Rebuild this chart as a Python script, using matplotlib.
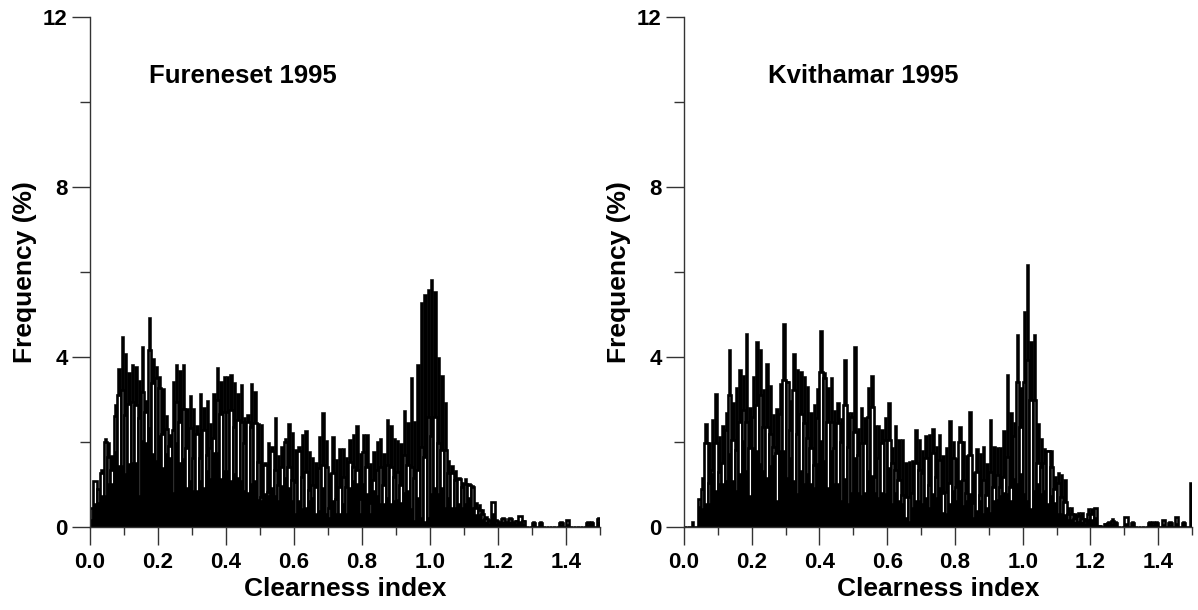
import numpy as np
import matplotlib.pyplot as plt

# clearness index bins, 0.01 wide, from 0.00 to 1.49
clearness_bins = np.round(np.arange(0, 1.5, 0.01), 2)

# Fureneset 1995 -- three overlaid frequency series (%)
fureneset_top = [
    0.30, 0.90, 0.67, 1.36, 2.10, 2.00, 1.70, 2.90, 3.75, 4.50,
    4.10, 3.65, 3.83, 3.80, 3.45, 4.25, 3.00, 4.95, 3.97, 3.80,
    3.55, 3.26, 2.64, 2.20, 3.44, 3.83, 3.70, 3.83, 2.80, 3.10,
    2.80, 2.40, 3.16, 2.83, 3.00, 2.45, 3.16, 3.76, 3.44, 3.55,
    3.55, 3.60, 3.42, 3.15, 3.37, 2.60, 2.65, 3.40, 3.20, 2.45,
    2.42, 1.54, 2.00, 1.90, 2.58, 1.70, 1.90, 2.09, 2.44, 2.24,
    1.83, 1.90, 2.20, 2.28, 1.80, 1.65, 1.54, 2.14, 2.70, 2.05,
    1.26, 2.14, 1.60, 1.85, 1.87, 1.65, 2.06, 2.20, 2.40, 1.73,
    2.20, 2.20, 1.50, 1.80, 2.03, 2.09, 1.73, 2.55, 2.40, 2.09,
    2.05, 1.97, 2.75, 2.48, 3.54, 2.50, 3.84, 5.30, 5.48, 5.60,
    5.84, 5.56, 4.00, 3.58, 2.95, 1.58, 1.46, 1.34, 1.18, 1.07,
    1.16, 1.03, 0.99, 0.60, 0.54, 0.42, 0.26, 0.18, 0.30, 0.18,
    0.13, 0.24, 0.13, 0.24, 0.13, 0.17, 0.15, 0.17, 0.00, 0.00,
    0.13, 0.00, 0.13, 0.00, 0.00, 0.00, 0.00, 0.00, 0.13, 0.00,
    0.10, 0.00, 0.00, 0.00, 0.00, 0.00, 0.13, 0.13, 0.00, 0.24,
]
fureneset_mid = [
    0.45, 1.08, 0.90, 1.26, 2.00, 1.65, 1.34, 2.62, 3.10, 3.22,
    2.63, 2.90, 2.95, 2.87, 2.56, 3.18, 2.70, 4.16, 3.38, 3.50,
    3.26, 2.20, 2.30, 1.90, 2.28, 2.95, 2.48, 2.77, 1.85, 2.32,
    1.62, 2.20, 1.62, 2.28, 1.70, 1.85, 2.09, 3.00, 2.67, 2.70,
    2.70, 2.75, 2.36, 2.52, 2.48, 1.97, 2.48, 2.36, 2.44, 1.54,
    0.71, 1.46, 0.83, 1.80, 1.34, 0.99, 1.42, 2.00, 1.42, 1.10,
    1.07, 1.80, 1.18, 1.30, 0.87, 0.99, 0.95, 1.38, 1.46, 1.42,
    0.44, 1.26, 0.67, 0.95, 1.18, 0.95, 1.54, 1.42, 1.34, 0.67,
    1.77, 1.42, 0.56, 1.10, 1.34, 1.42, 0.99, 1.46, 1.42, 1.18,
    1.30, 0.99, 1.69, 1.46, 1.42, 1.15, 1.34, 1.89, 1.65, 2.60,
    2.13, 2.60, 1.97, 1.81, 1.81, 1.26, 1.26, 1.10, 1.14, 0.95,
    1.02, 0.99, 0.95, 0.45, 0.40, 0.30, 0.20, 0.15, 0.60, 0.15,
    0.10, 0.20, 0.10, 0.20, 0.10, 0.13, 0.26, 0.13, 0.00, 0.00,
    0.10, 0.00, 0.10, 0.00, 0.00, 0.00, 0.00, 0.00, 0.10, 0.00,
    0.17, 0.00, 0.00, 0.00, 0.00, 0.00, 0.10, 0.10, 0.00, 0.20,
]
fureneset_low = [
    0.20, 0.56, 0.60, 0.75, 0.75, 1.03, 1.03, 1.80, 1.46, 1.46,
    1.26, 1.50, 1.54, 1.54, 0.75, 2.05, 2.00, 2.36, 1.73, 1.58,
    2.16, 1.42, 1.73, 1.65, 0.83, 2.00, 1.54, 1.62, 0.95, 1.10,
    0.87, 0.87, 1.10, 0.95, 1.34, 1.15, 1.77, 1.77, 1.15, 1.34,
    1.34, 1.10, 1.26, 1.18, 1.10, 0.87, 0.83, 1.03, 1.10, 0.67,
    0.63, 0.79, 0.75, 0.95, 0.75, 0.64, 0.99, 1.18, 0.95, 0.64,
    0.32, 0.64, 0.44, 0.48, 0.64, 0.71, 0.32, 0.40, 0.95, 0.32,
    0.24, 0.64, 0.32, 0.32, 0.56, 0.32, 0.95, 1.10, 1.03, 0.32,
    1.03, 0.79, 0.32, 0.87, 0.75, 0.56, 0.56, 0.71, 0.56, 0.64,
    0.67, 0.60, 0.83, 0.87, 0.44, 0.16, 0.71, 0.24, 0.13, 0.24,
    0.79, 0.95, 0.79, 0.95, 0.48, 0.71, 0.48, 0.48, 0.56, 0.48,
    0.56, 0.71, 0.48, 0.30, 0.30, 0.20, 0.15, 0.10, 0.32, 0.10,
    0.08, 0.15, 0.08, 0.13, 0.08, 0.10, 0.15, 0.10, 0.00, 0.00,
    0.08, 0.00, 0.08, 0.00, 0.00, 0.00, 0.00, 0.00, 0.08, 0.00,
    0.08, 0.00, 0.00, 0.00, 0.00, 0.00, 0.08, 0.08, 0.00, 0.15,
]

# Kvithamar 1995
kvithamar_top = [
    0.00, 0.00, 0.14, 0.00, 0.50, 1.17, 2.44, 2.00, 2.53, 3.16,
    2.13, 2.40, 2.70, 4.18, 2.95, 3.30, 3.72, 3.58, 4.56, 2.83,
    3.55, 4.38, 4.18, 3.24, 3.85, 3.34, 2.67, 2.80, 3.38, 4.79,
    3.44, 3.00, 4.09, 3.71, 3.68, 3.55, 3.32, 2.71, 2.90, 3.26,
    4.64, 3.65, 3.30, 3.54, 2.75, 2.93, 2.56, 3.95, 2.70, 2.70,
    4.27, 2.32, 2.83, 2.60, 3.29, 3.58, 2.40, 2.40, 2.31, 2.60,
    2.93, 1.89, 2.39, 2.08, 2.06, 1.54, 1.56, 1.58, 2.30, 2.06,
    1.81, 2.16, 2.20, 2.32, 1.90, 2.20, 1.70, 1.89, 2.52, 2.03,
    1.62, 2.38, 2.02, 1.70, 2.74, 1.30, 1.85, 1.73, 1.90, 1.50,
    2.54, 1.91, 1.89, 1.89, 2.28, 3.60, 2.71, 2.48, 4.54, 3.30,
    5.09, 6.18, 4.37, 4.55, 2.45, 2.09, 1.87, 1.81, 1.81, 1.20,
    1.30, 1.24, 1.13, 0.46, 0.46, 0.32, 0.35, 0.36, 0.22, 0.45,
    0.45, 0.30, 0.05, 0.00, 0.10, 0.13, 0.22, 0.13, 0.00, 0.00,
    0.15, 0.00, 0.13, 0.00, 0.00, 0.00, 0.00, 0.13, 0.13, 0.13,
    0.00, 0.10, 0.00, 0.13, 0.00, 0.12, 0.00, 0.13, 0.00, 1.05,
]
kvithamar_mid = [
    0.00, 0.00, 0.00, 0.00, 0.67, 0.90, 1.97, 1.03, 1.34, 1.97,
    1.30, 1.50, 2.28, 3.10, 2.05, 1.81, 2.48, 2.75, 2.48, 1.85,
    2.60, 2.87, 3.10, 2.36, 2.36, 2.20, 1.89, 1.73, 2.67, 3.46,
    3.42, 2.28, 3.22, 2.20, 2.67, 2.44, 2.09, 1.85, 1.46, 2.56,
    3.65, 3.50, 2.48, 2.48, 1.85, 2.44, 2.00, 2.87, 1.89, 2.60,
    2.24, 1.70, 1.97, 1.97, 2.60, 2.83, 1.18, 1.62, 1.97, 2.05,
    2.05, 1.50, 1.34, 1.10, 0.75, 0.71, 0.71, 0.79, 1.50, 1.34,
    1.26, 1.62, 0.99, 1.73, 1.18, 1.58, 0.79, 0.83, 1.03, 1.62,
    0.95, 2.00, 1.10, 0.79, 1.69, 0.56, 1.30, 0.75, 1.10, 0.75,
    1.30, 0.95, 1.22, 0.95, 1.18, 1.65, 0.95, 2.13, 3.42, 2.36,
    3.42, 3.93, 2.99, 2.99, 1.50, 1.42, 1.50, 1.78, 1.42, 0.90,
    1.03, 0.71, 0.60, 0.30, 0.30, 0.20, 0.25, 0.20, 0.15, 0.30,
    0.30, 0.45, 0.03, 0.00, 0.08, 0.10, 0.15, 0.10, 0.00, 0.00,
    0.24, 0.00, 0.10, 0.00, 0.00, 0.00, 0.00, 0.10, 0.10, 0.10,
    0.00, 0.17, 0.00, 0.10, 0.00, 0.24, 0.00, 0.10, 0.00, 0.00,
]
kvithamar_low = [
    0.00, 0.00, 0.00, 0.00, 0.50, 0.45, 0.56, 0.56, 1.26, 0.87,
    1.03, 1.03, 1.10, 1.73, 1.10, 0.87, 1.26, 2.05, 1.34, 0.75,
    1.89, 1.81, 1.50, 1.34, 1.18, 1.46, 1.70, 0.64, 1.81, 1.81,
    1.18, 1.65, 1.10, 0.79, 1.34, 1.03, 1.26, 1.03, 0.95, 1.50,
    2.05, 1.58, 0.95, 1.81, 1.03, 1.03, 0.64, 1.15, 0.56, 0.83,
    1.65, 0.83, 0.75, 0.83, 1.34, 1.22, 0.83, 0.71, 0.83, 0.79,
    1.42, 0.56, 0.83, 0.64, 0.56, 0.24, 0.13, 0.48, 0.64, 0.64,
    0.56, 0.71, 0.48, 0.79, 0.71, 0.95, 0.36, 0.32, 0.56, 0.87,
    0.64, 1.10, 0.52, 0.64, 0.79, 0.24, 0.40, 0.64, 0.32, 0.48,
    0.36, 0.64, 0.67, 0.75, 0.83, 0.79, 0.64, 1.15, 1.03, 1.26,
    0.80, 0.64, 0.44, 0.87, 1.03, 0.79, 0.87, 0.56, 0.75, 0.60,
    0.32, 0.32, 0.30, 0.20, 0.20, 0.15, 0.15, 0.15, 0.10, 0.20,
    0.20, 0.24, 0.02, 0.00, 0.05, 0.08, 0.10, 0.08, 0.00, 0.00,
    0.10, 0.00, 0.08, 0.00, 0.00, 0.00, 0.00, 0.08, 0.08, 0.08,
    0.00, 0.08, 0.00, 0.08, 0.00, 0.10, 0.00, 0.08, 0.00, 0.00,
]

panels = [
    ('Fureneset 1995', fureneset_top, fureneset_mid, fureneset_low,
     [90 / 1198, 83 / 610, 510 / 1198, 510 / 610], 0.115),
    ('Kvithamar 1995', kvithamar_top, kvithamar_mid, kvithamar_low,
     [684 / 1198, 83 / 610, 508 / 1198, 510 / 610], 0.165),
]

plt.rcParams['font.family'] = ['Liberation Sans', 'DejaVu Sans']
plt.rcParams['font.weight'] = 'bold'

fig = plt.figure(figsize=(11.98, 6.10), dpi=100)
axis_color = '#333333'

for name, top, mid, low, rect, title_x in panels:
    ax = fig.add_axes(rect)
    ax.bar(clearness_bins, top, width=0.01, align='edge', color='black',
           edgecolor='black', linewidth=0.4, zorder=1)
    ax.bar(clearness_bins, mid, width=0.01, align='edge', color='white',
           edgecolor='black', linewidth=1.9, zorder=2)
    ax.bar(clearness_bins, low, width=0.01, align='edge', color='black',
           edgecolor='black', linewidth=0.4, zorder=3)

    ax.set_xlim(0, 1.5)
    ax.set_ylim(0, 12)
    ax.set_xticks(np.arange(0, 1.41, 0.2))
    ax.set_xticks(np.arange(0.1, 1.51, 0.2), minor=True)
    ax.set_xticklabels(['%.1f' % v for v in np.arange(0, 1.41, 0.2)])
    ax.set_yticks([0, 4, 8, 12])
    ax.set_yticks([2, 6, 10], minor=True)

    for side in ['top', 'right']:
        ax.spines[side].set_visible(False)
    for side in ['left', 'bottom']:
        ax.spines[side].set_color(axis_color)
        ax.spines[side].set_linewidth(1.0)
        ax.spines[side].set_zorder(5)

    ax.tick_params(axis='x', which='major', length=13, width=1.0,
                   color=axis_color, labelsize=16, pad=5)
    ax.tick_params(axis='x', which='minor', length=6, width=1.0,
                   color=axis_color)
    ax.tick_params(axis='y', which='major', length=13, width=1.0,
                   color=axis_color, labelsize=16, pad=3)
    ax.tick_params(axis='y', which='minor', length=7, width=1.0,
                   color=axis_color)
    for lab in ax.get_xticklabels() + ax.get_yticklabels():
        lab.set_fontweight('bold')

    ax.set_xlabel('Clearness index', fontsize=19, fontweight='bold',
                  labelpad=3)
    ax.set_ylabel('Frequency (%)', fontsize=19, fontweight='bold',
                  labelpad=4)
    ax.text(title_x, 0.885, name, transform=ax.transAxes, fontsize=18.5,
            fontweight='bold', va='center', ha='left')

fig.savefig('out.png', dpi=100)
